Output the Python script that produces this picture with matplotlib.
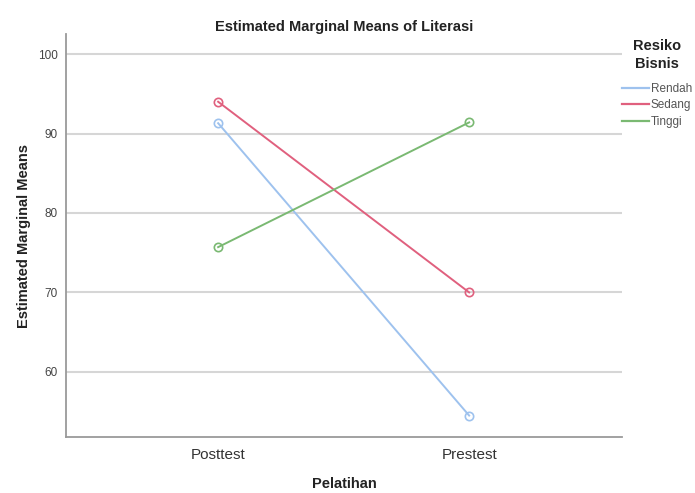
import matplotlib
matplotlib.use("Agg")
import matplotlib.pyplot as plt
from matplotlib.lines import Line2D

categories = ["Posttest", "Prestest"]
rendah = [91.3, 54.5]
sedang = [94.0, 70.0]
tinggi = [75.7, 91.4]
series_names = ["Rendah", "Sedang", "Tinggi"]
colors = ["#9ec2ee", "#e0607e", "#7ab972"]
yticks = [60, 70, 80, 90, 100]

plt.rcParams['font.family'] = ['Liberation Sans', 'DejaVu Sans']
W, H = 695, 493
fig = plt.figure(figsize=(W / 100, H / 100), dpi=100)
ax = fig.add_axes([0.095, 0.1136, 0.80, 0.817])

x = list(range(len(categories)))
for vals, name, c in zip([rendah, sedang, tinggi], series_names, colors):
    ax.plot(x, vals, color=c, lw=1.4, marker='o', ms=6, mfc='none', mec=c, mew=1.2, label=name)

ax.set_xlim(-0.606, 1.609)
ax.set_ylim(51.8, 102.5)
ax.set_yticks(yticks)
ax.set_xticks(x)
ax.set_xticklabels(categories, fontsize=11, color='#333333')
ax.tick_params(axis='y', labelsize=8.5, colors='#444444', length=0, pad=6)
ax.tick_params(axis='x', length=0, pad=8)
ax.yaxis.grid(True, color='#d6d6d6', lw=1.5)
ax.set_axisbelow(True)
for s in ['top', 'right']:
    ax.spines[s].set_visible(False)
for s in ['left', 'bottom']:
    ax.spines[s].set_color('#9a9a9a')
    ax.spines[s].set_linewidth(1.3)

ax.set_title("Estimated Marginal Means of Literasi", fontsize=10.5, fontweight='bold', color='#222222', pad=1)
ax.set_ylabel("Estimated Marginal Means", fontsize=10.5, fontweight='bold', color='#222222', labelpad=5)
ax.set_xlabel("Pelatihan", fontsize=10.5, fontweight='bold', color='#222222', labelpad=11)

fig.text(657 / W, 1 - 55 / H, "Resiko\nBisnis", ha='center', va='center', fontsize=10.5,
         fontweight='bold', color='#222222', linespacing=1.35)
handles = [Line2D([], [], color=c, lw=1.6) for c in colors]
leg = fig.legend(handles, series_names, loc='upper left', bbox_to_anchor=(622 / W, 1 - 83 / H),
                 frameon=False, fontsize=8.5, handlelength=2.3, handletextpad=0.15,
                 labelspacing=0.38, borderpad=0, borderaxespad=0)
for t in leg.get_texts():
    t.set_color('#555555')
fig.savefig("out.png", dpi=100)
